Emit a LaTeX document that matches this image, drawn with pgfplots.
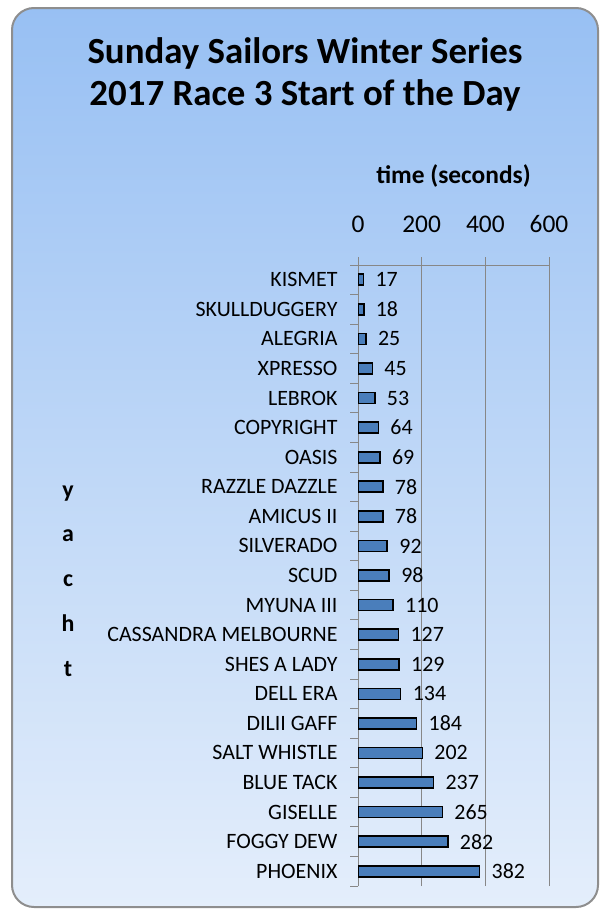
\documentclass[border=0pt]{standalone}
\usepackage{fontspec}
\setmainfont{Carlito}
\usepackage{pgfplots}
\pgfplotsset{compat=1.18}
\definecolor{barblue}{HTML}{4A7EBB}
\definecolor{gridgray}{HTML}{878787}
\definecolor{bgtop}{HTML}{98C0F3}
\definecolor{bgbot}{HTML}{E4EEFB}
\definecolor{framegray}{HTML}{8E8E8E}
\begin{document}
\begin{tikzpicture}[x=1bp,y=1bp]
\useasboundingbox (0,0) rectangle (605,-910);
\shade[top color=bgtop, bottom color=bgbot, draw=framegray, line width=2bp, rounded corners=22bp] (12,-8) rectangle (598,-907);
\begin{axis}[
  at={(358bp,-265bp)}, anchor=north west,
  width=191bp, height=621bp, scale only axis,
  xmin=0, xmax=600, ymin=-0.5, ymax=20.5,
  xbar, bar width=11bp,
  axis x line*=top, axis y line*=left,
  axis line style={draw=gridgray, line width=0.8bp},
  xtick={0,200,400,600},
  ytick={0,...,20},
  yticklabels={PHOENIX, FOGGY DEW, GISELLE, BLUE TACK, SALT WHISTLE, DILII GAFF, DELL ERA, SHES A LADY, CASSANDRA MELBOURNE, MYUNA III, SCUD, SILVERADO, AMICUS II, RAZZLE DAZZLE, OASIS, COPYRIGHT, LEBROK, XPRESSO, ALEGRIA, SKULLDUGGERY, KISMET},
  minor ytick={-0.5,0.5,...,20.5},
  tick align=outside,
  major tick length=8bp, minor tick length=8bp,
  every major x tick/.style={draw=gridgray, line width=0.8bp},
  every major y tick/.style={draw=none},
  every minor y tick/.style={draw=gridgray, line width=0.8bp},
  xmajorgrids=true,
  grid style={draw=gridgray, line width=0.8bp},
  /pgf/number format/assume math mode=true,
  xticklabel style={font=\fontsize{25.5}{25.5}\selectfont, anchor=base, yshift=25bp},
  yticklabel style={font=\fontsize{22}{22}\selectfont, xshift=-9bp},
  nodes near coords, point meta=x,
  nodes near coords style={font=\fontsize{22}{22}\selectfont, anchor=west, xshift=8bp, /pgf/number format/assume math mode=true},
  xlabel={time (seconds)},
  xlabel style={font=\bfseries\fontsize{25.5}{25.5}\selectfont, at={(axis description cs:0.5,1.143)}, anchor=center},
  ylabel={y\\a\\c\\h\\t},
  ylabel style={rotate=-90, align=center, font=\bfseries\fontsize{24}{45}\selectfont, at={(axis description cs:-1.518,0.491)}, anchor=center},
  title={Sunday Sailors Winter Series\\2017 Race 3 Start of the Day},
  title style={align=center, font=\bfseries\fontsize{37}{42}\selectfont, at={(axis description cs:-0.2775,1.297)}, anchor=center},
]
\addplot[fill=barblue, draw=black, line width=1.6bp] coordinates {
(382,0) (282,1) (265,2) (237,3) (202,4) (184,5) (134,6) (129,7) (127,8) (110,9) (98,10) (92,11) (78,12) (78,13) (69,14) (64,15) (53,16) (45,17) (25,18) (18,19) (17,20)
};
\end{axis}
\end{tikzpicture}
\end{document}
